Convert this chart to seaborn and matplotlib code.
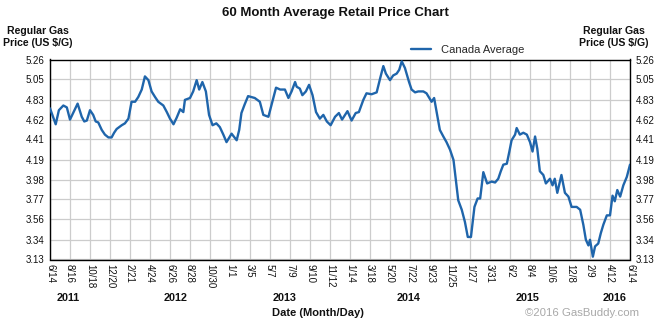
import matplotlib
matplotlib.use("Agg")
import matplotlib.pyplot as plt
import matplotlib.transforms as mtransforms
import seaborn as sns
import pandas as pd

# ---- data ----
dates = [
    "2011-06-14", "2011-07-02", "2011-07-12", "2011-07-26", "2011-08-06", "2011-08-16",
    "2011-08-26", "2011-09-09", "2011-09-22", "2011-09-30", "2011-10-08", "2011-10-18",
    "2011-10-28", "2011-11-05", "2011-11-13", "2011-11-24", "2011-12-04", "2011-12-15",
    "2011-12-25", "2012-01-02", "2012-01-10", "2012-01-26", "2012-02-05", "2012-02-16",
    "2012-02-26", "2012-03-08", "2012-03-18", "2012-03-29", "2012-04-08", "2012-04-19",
    "2012-04-29", "2012-05-10", "2012-05-20", "2012-06-05", "2012-06-16", "2012-06-26",
    "2012-07-07", "2012-07-17", "2012-07-28", "2012-08-07", "2012-08-12", "2012-08-28",
    "2012-09-07", "2012-09-18", "2012-09-26", "2012-10-06", "2012-10-17", "2012-10-27",
    "2012-11-07", "2012-11-19", "2012-11-30", "2012-12-11", "2012-12-21", "2013-01-06",
    "2013-01-22", "2013-01-30", "2013-02-06", "2013-02-16", "2013-02-27", "2013-03-10",
    "2013-03-20", "2013-04-05", "2013-04-16", "2013-05-02", "2013-05-12", "2013-05-26",
    "2013-06-08", "2013-06-23", "2013-07-04", "2013-07-14", "2013-07-25", "2013-07-30",
    "2013-08-09", "2013-08-17", "2013-08-28", "2013-09-07", "2013-09-18", "2013-09-29",
    "2013-10-11", "2013-10-22", "2013-11-02", "2013-11-14", "2013-11-28", "2013-12-10",
    "2013-12-20", "2014-01-06", "2014-01-19", "2014-02-01", "2014-02-11", "2014-02-25",
    "2014-03-07", "2014-03-23", "2014-04-08", "2014-04-19", "2014-04-29", "2014-05-07",
    "2014-05-20", "2014-05-30", "2014-06-10", "2014-06-18", "2014-06-26", "2014-07-06",
    "2014-07-19", "2014-07-27", "2014-08-07", "2014-08-17", "2014-09-02", "2014-09-12",
    "2014-09-28", "2014-10-06", "2014-10-14", "2014-10-24", "2014-11-04", "2014-11-14",
    "2014-11-25", "2014-12-06", "2014-12-13", "2014-12-21", "2015-01-01", "2015-01-11",
    "2015-01-20", "2015-01-30", "2015-02-10", "2015-02-20", "2015-02-28", "2015-03-10",
    "2015-03-22", "2015-04-05", "2015-04-16", "2015-04-26", "2015-05-04", "2015-05-12",
    "2015-05-23", "2015-05-31", "2015-06-07", "2015-06-18", "2015-06-23", "2015-07-03",
    "2015-07-14", "2015-07-25", "2015-08-04", "2015-08-12", "2015-08-20", "2015-08-27",
    "2015-09-04", "2015-09-15", "2015-09-23", "2015-10-06", "2015-10-14", "2015-10-21",
    "2015-10-29", "2015-11-11", "2015-11-22", "2015-12-03", "2015-12-13", "2015-12-29",
    "2016-01-09", "2016-01-19", "2016-01-27", "2016-02-04", "2016-02-09", "2016-02-18",
    "2016-02-25", "2016-03-06", "2016-03-14", "2016-03-22", "2016-04-02", "2016-04-12",
    "2016-04-20", "2016-04-27", "2016-05-05", "2016-05-14", "2016-05-24", "2016-06-04",
    "2016-06-14",
]
prices = [
    4.74, 4.57, 4.72, 4.77, 4.75, 4.62,
    4.69, 4.79, 4.65, 4.60, 4.61, 4.72,
    4.67, 4.60, 4.59, 4.51, 4.46, 4.43,
    4.43, 4.48, 4.52, 4.56, 4.58, 4.63,
    4.81, 4.81, 4.86, 4.94, 5.08, 5.04,
    4.92, 4.86, 4.81, 4.77, 4.70, 4.63,
    4.57, 4.64, 4.73, 4.70, 4.83, 4.85,
    4.92, 5.04, 4.94, 5.02, 4.92, 4.67,
    4.56, 4.58, 4.54, 4.46, 4.38, 4.47,
    4.40, 4.51, 4.69, 4.78, 4.87, 4.86,
    4.85, 4.81, 4.67, 4.65, 4.78, 4.96,
    4.94, 4.94, 4.85, 4.92, 5.02, 4.97,
    4.95, 4.88, 4.92, 4.99, 4.88, 4.70,
    4.63, 4.67, 4.60, 4.56, 4.65, 4.69,
    4.62, 4.71, 4.61, 4.69, 4.70, 4.83,
    4.90, 4.89, 4.91, 5.06, 5.19, 5.11,
    5.04, 5.09, 5.11, 5.15, 5.24, 5.17,
    5.02, 4.94, 4.91, 4.92, 4.92, 4.90,
    4.81, 4.85, 4.70, 4.51, 4.44, 4.38,
    4.30, 4.19, 3.99, 3.76, 3.66, 3.53,
    3.37, 3.37, 3.69, 3.78, 3.78, 4.06,
    3.94, 3.96, 3.95, 3.99, 4.07, 4.14,
    4.15, 4.28, 4.40, 4.46, 4.53, 4.46,
    4.48, 4.46, 4.38, 4.28, 4.44, 4.31,
    4.07, 4.03, 3.94, 3.99, 3.92, 3.99,
    3.84, 4.03, 3.84, 3.80, 3.69, 3.69,
    3.66, 3.50, 3.34, 3.28, 3.34, 3.16,
    3.27, 3.30, 3.41, 3.50, 3.60, 3.60,
    3.81, 3.75, 3.87, 3.80, 3.92, 4.01,
    4.14,
]
tick_dates = [
    "2011-06-14", "2011-08-16", "2011-10-18", "2011-12-20", "2012-02-21", "2012-04-24",
    "2012-06-26", "2012-08-28", "2012-10-30", "2013-01-01", "2013-03-05", "2013-05-07",
    "2013-07-09", "2013-09-10", "2013-11-12", "2014-01-14", "2014-03-18", "2014-05-20",
    "2014-07-22", "2014-09-23", "2014-11-25", "2015-01-27", "2015-03-31", "2015-06-02",
    "2015-08-04", "2015-10-06", "2015-12-08", "2016-02-09", "2016-04-12", "2016-06-14",
]
tick_labels = [
    "6/14", "8/16", "10/18", "12/20", "2/21", "4/24", "6/26", "8/28", "10/30", "1/1",
    "3/5", "5/7", "7/9", "9/10", "11/12", "1/14", "3/18", "5/20", "7/22", "9/23",
    "11/25", "1/27", "3/31", "6/2", "8/4", "10/6", "12/8", "2/9", "4/12", "6/14",
]
y_ticks = [3.13, 3.34, 3.56, 3.77, 3.98, 4.19, 4.41, 4.62, 4.83, 5.05, 5.26]
y_tick_labels = ["3.13", "3.34", "3.56", "3.77", "3.98", "4.19", "4.41", "4.62", "4.83", "5.05", "5.26"]
years = ["2011", "2012", "2013", "2014", "2015", "2016"]
year_label_dates = ["2011-08-10", "2012-07-12", "2013-06-23", "2014-07-19", "2015-07-26", "2016-04-28"]
series_name = "Canada Average"

# ---- styling ----
sns.set_style("white")
plt.rcParams["font.family"] = ["Liberation Sans", "DejaVu Sans"]

df = pd.DataFrame({"date": pd.to_datetime(dates), "price": prices})

W, H = 670, 325
fig = plt.figure(figsize=(W / 100, H / 100), dpi=100)
fig.patch.set_facecolor("white")
ax = fig.add_axes([50 / W, 1 - 259.5 / H, 580 / W, 200 / H])

sns.lineplot(data=df, x="date", y="price", ax=ax, color="#1f65ab",
             linewidth=1.7, label=series_name, zorder=3)

ax.set_xlim(pd.Timestamp(tick_dates[0]), pd.Timestamp(tick_dates[-1]))
ax.set_ylim(y_ticks[0], y_ticks[-1])
ax.set_xticks(pd.to_datetime(tick_dates))
ax.set_xticklabels(tick_labels, rotation=-90, fontsize=7, color="#111111")
ax.set_yticks(y_ticks)
ax.set_yticklabels(y_tick_labels, fontsize=7, color="#111111")
ax.tick_params(axis="y", length=0, pad=4, labelleft=True, labelright=True)
ax.tick_params(axis="x", length=0, pad=3)
ax.grid(True, color="#cccccc", linewidth=0.9)
ax.set_axisbelow(True)
for s in ax.spines.values():
    s.set_color("black")
    s.set_linewidth(1.0)
ax.set_xlabel("")
ax.set_ylabel("")

# year labels under the month/day ticks
trans = mtransforms.blended_transform_factory(ax.transData, ax.transAxes)
for yr, d in zip(years, year_label_dates):
    ax.text(pd.Timestamp(d), (259.5 - 298) / 200, yr, transform=trans,
            ha="center", va="center", fontsize=7.8, fontweight="bold", color="#111111")

# titles and headers
fig.text(335 / W, 1 - 13 / H, "60 Month Average Retail Price Chart", ha="center",
         va="center", fontsize=9.5, fontweight="bold", color="#111111")
fig.text(38 / W, 1 - 37 / H, "Regular Gas\nPrice (US $/G)", ha="center", va="center",
         fontsize=7.6, fontweight="bold", color="#111111", linespacing=1.15)
fig.text(614 / W, 1 - 37 / H, "Regular Gas\nPrice (US $/G)", ha="center", va="center",
         fontsize=7.6, fontweight="bold", color="#111111", linespacing=1.15)
fig.text(318 / W, 1 - 313 / H, "Date (Month/Day)", ha="center", va="center",
         fontsize=8, fontweight="bold", color="#111111")
fig.text(582 / W, 1 - 313 / H, "\u00a92016 GasBuddy.com", ha="center", va="center",
         fontsize=8.2, color="#a8a8a8")

ax.legend(loc="center left", bbox_to_anchor=(411 / W, 1 - 50 / H),
          bbox_transform=fig.transFigure, frameon=False, fontsize=8,
          handlelength=1.8, handletextpad=0.9, borderpad=0, borderaxespad=0)

fig.savefig("out.png", dpi=100, facecolor="white")
